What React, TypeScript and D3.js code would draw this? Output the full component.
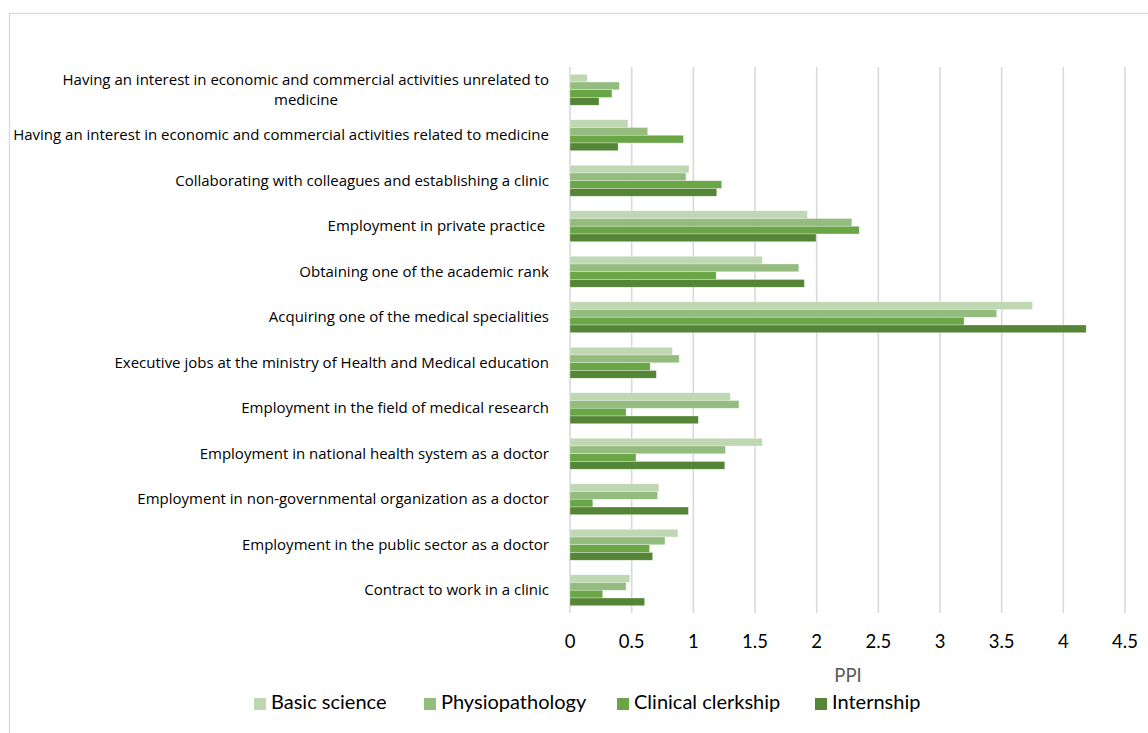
import React from 'react';
import * as d3 from 'd3';

// categories, top to bottom as shown
const categories: string[] = [
  'Having an interest in economic and commercial activities unrelated to medicine',
  'Having an interest in economic and commercial activities related to medicine',
  'Collaborating with colleagues and establishing a clinic',
  'Employment in private practice ',
  'Obtaining one of the academic rank',
  'Acquiring one of the medical specialities',
  'Executive jobs at the ministry of Health and Medical education',
  'Employment in the field of medical research',
  'Employment in national health system as a doctor',
  'Employment in non-governmental organization as a doctor',
  'Employment in the public sector as a doctor',
  'Contract to work in a clinic',
];

const seriesNames: string[] = ['Basic science', 'Physiopathology', 'Clinical clerkship', 'Internship'];
const seriesColors: string[] = ['#c0d7b3', '#93bc7e', '#6aa546', '#558536'];

const basicScience: number[] = [0.14, 0.47, 0.965, 1.925, 1.56, 3.75, 0.83, 1.3, 1.56, 0.72, 0.875, 0.485];
const physiopathology: number[] = [0.4, 0.63, 0.94, 2.285, 1.855, 3.46, 0.885, 1.37, 1.26, 0.71, 0.77, 0.455];
const clinicalClerkship: number[] = [0.34, 0.92, 1.23, 2.345, 1.185, 3.195, 0.65, 0.455, 0.535, 0.185, 0.645, 0.265];
const internship: number[] = [0.235, 0.39, 1.19, 1.995, 1.9, 4.185, 0.7, 1.04, 1.255, 0.96, 0.67, 0.605];

const seriesValues: number[][] = [basicScience, physiopathology, clinicalClerkship, internship];
const xTicks: number[] = [0, 0.5, 1, 1.5, 2, 2.5, 3, 3.5, 4, 4.5];

const W = 1148;
const H = 733;
const FONT = 'Lato, "Open Sans", sans-serif';
const LABEL_FONT = '"Open Sans", Lato, sans-serif';

export default function App() {
  const x = d3.scaleLinear().domain([0, 4.5]).range([570, 1125]);
  const y = d3.scaleBand<string>().domain(categories).range([67, 613]).paddingInner(0.32).paddingOuter(0.16);
  const ySub = d3.scaleBand<string>().domain(seriesNames).range([0, y.bandwidth()]);

  const legendX = [254, 424, 617, 815];

  return (
    <svg width={W} height={H} style={{ position: 'absolute', left: 0, top: 0, background: '#fff' }} fontFamily={FONT}>
      <rect x={9.5} y={13.5} width={1300} height={900} fill="#fff" stroke="#d9d9d9" strokeWidth={1.3} />

      {/* gridlines */}
      {xTicks.map((t) => (
        <line key={t} x1={x(t)} x2={x(t)} y1={67} y2={613} stroke="#d9d9d9" strokeWidth={1.6} />
      ))}

      {/* bars */}
      {categories.map((c, ci) => (
        <g key={c} transform={`translate(0,${y(c)})`}>
          {seriesNames.map((s, si) => (
            <rect
              key={s}
              x={x(0)}
              y={ySub(s)}
              width={x(seriesValues[si][ci]) - x(0)}
              height={ySub.bandwidth()}
              fill={seriesColors[si]}
              stroke="#ffffff"
              strokeOpacity={0.5}
              strokeWidth={0.6}
            />
          ))}
        </g>
      ))}

      {/* category labels */}
      {categories.map((c, ci) => {
        const cy = (y(c) as number) + y.bandwidth() / 2 + 1;
        if (ci === 0) {
          return (
            <g key={c} fontSize={15} fill="#000" fontFamily={LABEL_FONT}>
              <text x={549} y={cy - 10} textAnchor="end" dominantBaseline="middle">
                Having an interest in economic and commercial activities unrelated to
              </text>
              <text x={306} y={cy + 10} textAnchor="middle" dominantBaseline="middle">
                medicine
              </text>
            </g>
          );
        }
        return (
          <text key={c} x={549} y={cy} textAnchor="end" dominantBaseline="middle" fontSize={15} fill="#000" fontFamily={LABEL_FONT} style={{ whiteSpace: 'pre' }}>
            {c}
          </text>
        );
      })}

      {/* x tick labels */}
      {xTicks.map((t) => (
        <text key={t} x={x(t)} y={643} textAnchor="middle" dominantBaseline="middle" fontSize={18.5} fill="#000">
          {t}
        </text>
      ))}

      <text x={848} y={677} textAnchor="middle" dominantBaseline="middle" fontSize={18.5} fill="#595959">
        PPI
      </text>

      {/* legend */}
      {seriesNames.map((s, i) => (
        <g key={s} transform={`translate(${legendX[i]},704)`}>
          <rect x={0} y={-6} width={12} height={12} fill={seriesColors[i]} />
          <text x={17} y={0} dominantBaseline="middle" fontSize={20} fill="#000">
            {s}
          </text>
        </g>
      ))}
    </svg>
  );
}
